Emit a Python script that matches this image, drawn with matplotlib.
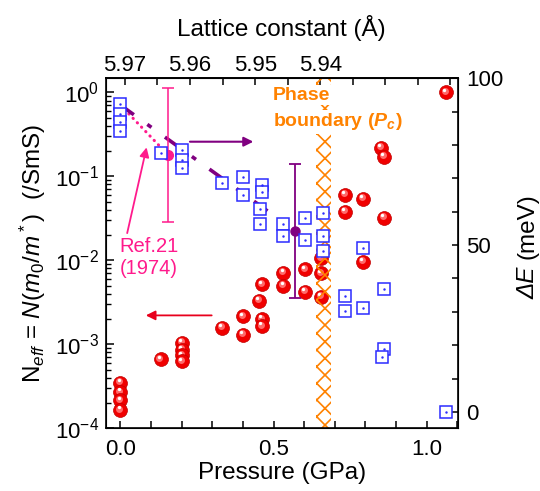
import matplotlib.pyplot as plt
import matplotlib.transforms as mtransforms
from matplotlib.ticker import MultipleLocator

plt.rcParams['font.family'] = ['Liberation Sans', 'DejaVu Sans']
plt.rcParams['mathtext.fontset'] = 'custom'
plt.rcParams['mathtext.rm'] = 'Liberation Sans'
plt.rcParams['mathtext.it'] = 'Liberation Sans:italic'
plt.rcParams['mathtext.bf'] = 'Liberation Sans:bold'
plt.rcParams['mathtext.bfit'] = 'Liberation Sans:italic:bold'
plt.rcParams['hatch.linewidth'] = 1.2

# effective carrier number N_eff (left axis, /SmS)
p_neff = [0, 0, 0, 0, 0.131, 0.2, 0.2, 0.2, 0.2, 0.331, 0.401, 0.401,
          0.452, 0.461, 0.461, 0.461, 0.532, 0.532, 0.602, 0.602,
          0.654, 0.654, 0.654, 0.733, 0.733, 0.791, 0.791, 0.850, 0.861,
          0.861, 1.062]
neff = [3.5e-4, 2.7e-4, 2.15e-4, 1.65e-4, 6.6e-4, 1.05e-3, 8.6e-4, 7.4e-4,
        6.3e-4, 1.58e-3, 2.15e-3, 1.3e-3, 3.3e-3, 5.2e-3, 2.0e-3, 1.65e-3,
        7.1e-3, 5.0e-3, 7.8e-3, 4.2e-3, 1.06e-2, 7.0e-3, 3.7e-3, 0.060,
        0.038, 0.054, 9.6e-3, 0.219, 0.171, 0.032, 1.0]

# gap energy dE (right axis, meV)
p_de = [0, 0, 0, 0, 0.132, 0.2, 0.2, 0.2, 0.332, 0.401, 0.401, 0.461,
        0.461, 0.455, 0.455, 0.532, 0.532, 0.602, 0.602, 0.662, 0.662,
        0.662, 0.732, 0.732, 0.791, 0.791, 0.861, 0.861, 0.853, 1.062]
de = [92.2, 89.3, 87.0, 84.3, 77.5, 78.5, 75.5, 73.0, 68.5, 70.3, 65.1,
      68.0, 66.0, 60.7, 56.3, 56.2, 52.8, 58.0, 51.5, 59.7, 52.8, 48.2,
      34.8, 30.3, 49.2, 31.3, 36.8, 18.9, 16.6, 0.0]

# Ref.21 (1974) and the averaged value, both with +-20 meV
p_ref, de_ref, err_ref = 0.156, 77.0, 20.0
p_avg, de_avg, err_avg = 0.570, 54.3, 20.0
de_start = 92.0
pc_lo, pc_hi = 0.638, 0.689

top_ticks = [5.97, 5.96, 5.95, 5.94]
top_minor = [5.965, 5.955, 5.945, 5.935, 5.93, 5.925, 5.92]

red = '#f00000'
blue = '#2b2bff'
purple = '#800080'
pink = '#ff1a8c'
orange = '#ff8200'


def p2a(p):
    return 5.9707 - 0.04706 * p


def a2p(a):
    return (5.9707 - a) / 0.04706


fig = plt.figure(figsize=(5.4, 4.91), dpi=100)
ax = fig.add_axes([0.1957, 0.1277, 0.6519, 0.7128])
ax2 = ax.twinx()

# glossy red spheres
hl1 = mtransforms.offset_copy(ax.transData, fig=fig, x=-0.8, y=1.1, units='points')
hl2 = mtransforms.offset_copy(ax.transData, fig=fig, x=-1.3, y=1.9, units='points')
for i, (p, n) in enumerate(zip(p_neff, neff)):
    z = 2 + i * 0.003
    ax.plot(p, n, 'o', ms=10, mfc=red, mec='#c00000', mew=0.5, zorder=z)
    ax.plot(p, n, 'o', ms=5, mfc='#ff6a6a', mec='none', transform=hl1, zorder=z + 0.001)
    ax.plot(p, n, 'o', ms=2.4, mfc='white', mec='none', transform=hl2, zorder=z + 0.002)

ax.axvspan(pc_lo, pc_hi, facecolor='none', edgecolor=orange, hatch='xx',
           lw=0, zorder=2.5)

ax.set_yscale('log')
ax.set_xlim(-0.048, 1.101)
ax.set_ylim(1e-4, 1.47)
ax.set_xticks([0, 0.5, 1.0])
ax.set_xticklabels(['0.0', '0.5', '1.0'])
ax.xaxis.set_minor_locator(MultipleLocator(0.1))
ax.tick_params(axis='x', which='both', direction='in', length=5, width=1.1,
               top=False, labelsize=16, pad=8)
ax.tick_params(axis='y', which='major', direction='in', length=6, width=1.1,
               right=False, labelsize=16, pad=5)
ax.tick_params(axis='y', which='minor', direction='in', length=3.5, width=1.0,
               right=False)
for s in ax.spines.values():
    s.set_linewidth(1.2)

ax.set_xlabel('Pressure (GPa)', fontsize=17.5, labelpad=1)
ax.set_ylabel(r'N$_{\mathit{eff}}$ = $\mathit{N}$($\mathit{m}_0$/$\mathit{m}^*$)  (/SmS)',
              fontsize=17.5, labelpad=5)

# right axis: dE
ax2.plot([0, p_ref], [de_start, de_ref], color=pink, lw=2.2,
         ls=(0, (0.1, 1.9)), dash_capstyle='round', zorder=1.5)
ax2.plot([0, p_avg], [de_start, de_avg], color=purple, lw=2.6,
         ls=(0, (4.6, 4.6, 1.4, 4.6)), zorder=1.5)
ax2.errorbar(p_ref, de_ref, yerr=err_ref, fmt='o', ms=7, color=pink,
             capsize=4.5, elinewidth=1.1, capthick=1.1, zorder=1.8)
ax2.errorbar(p_avg, de_avg, yerr=err_avg, fmt='o', ms=6.5, color=purple,
             capsize=4.5, elinewidth=1.3, capthick=1.3, zorder=1.8)
ax2.plot(p_de, de, 's', ms=8.3, mfc='white', mec=blue, mew=1.1, ls='none', zorder=3)
ax2.plot(p_de, de, '.', ms=1.5, color=blue, ls='none', zorder=3.1)

ax2.set_ylim(-4.9, 100)
ax2.set_yticks([0, 50, 100])
ax2.yaxis.set_minor_locator(MultipleLocator(10))
ax2.tick_params(axis='y', which='both', direction='in', length=4.5, width=1.1,
                labelsize=16, pad=6)

# right axis title: italic "ΔE" followed by upright "(meV)"
fig.text(528 / 540, 1 - 299 / 491, 'ΔE', rotation=90, fontstyle='italic',
         fontsize=17.5, ha='center', va='bottom')
fig.text(528 / 540, 1 - 259 / 491, '(meV)', rotation=90,
         fontsize=17.5, ha='center', va='bottom')

arrow = dict(arrowstyle='-|>', lw=1.5, mutation_scale=14, shrinkA=0, shrinkB=0)
ax2.annotate('', xy=(0.434, 81.0), xytext=(0.227, 81.0),
             arrowprops=dict(arrow, color=purple))
ax.annotate('', xy=(0.083, 2.21e-3), xytext=(0.298, 2.21e-3),
            arrowprops=dict(arrow, color='#e8001c', lw=1.3))
ax2.annotate('', xy=(0.0855, 79.3), xytext=(0.0222, 53.6),
             arrowprops=dict(arrow, color=pink, lw=1.3))

ax2.text(0.039, 0.488, 'Ref.21\n(1974)', transform=ax2.transAxes, color=pink,
         fontsize=14.5, ha='left', va='center', linespacing=1.25, zorder=5)
box = dict(facecolor='white', edgecolor='none', pad=1.0)
ax2.text(0.475, 0.952, 'Phase', transform=ax2.transAxes, color=orange,
         fontsize=14, fontweight='bold', ha='left', va='center', bbox=box, zorder=5)
ax2.text(0.475, 0.876, r'boundary ($\mathbfit{P}_{\mathbfit{c}}$)', transform=ax2.transAxes,
         color=orange, fontsize=14, fontweight='bold', ha='left', va='center',
         bbox=box, zorder=5)

# lattice constant scale on top
secax = ax.secondary_xaxis('top', functions=(p2a, a2p))
secax.set_xticks(top_ticks)
secax.set_xticklabels([f'{a:.2f}' for a in top_ticks])
secax.set_xticks(top_minor, minor=True)
secax.tick_params(which='both', direction='in', length=5, width=1.1,
                  labelsize=16, pad=2)
secax.spines['top'].set_linewidth(1.2)
secax.set_xlabel('Lattice constant (Å)', fontsize=17.5, labelpad=13)

fig.savefig('out.png', dpi=100)
